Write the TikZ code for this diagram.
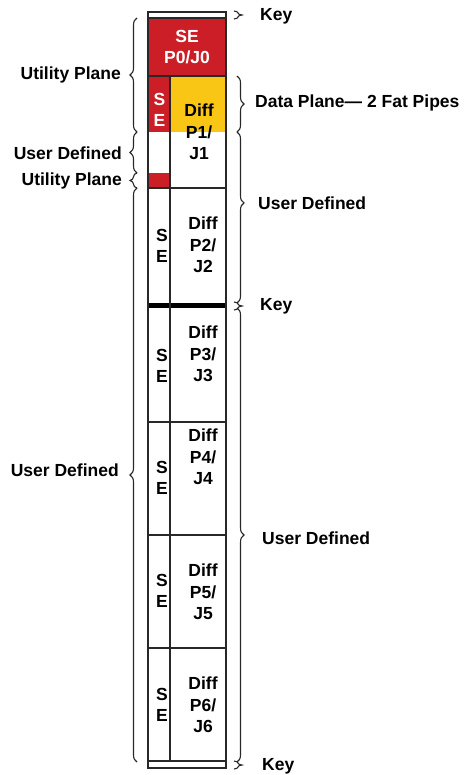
\documentclass[tikz,border=0pt]{standalone}
\usepackage{fontspec}
\setmainfont{Liberation Sans}
\usetikzlibrary{decorations.pathreplacing}
\definecolor{sered}{RGB}{204,30,38}
\definecolor{dpyel}{RGB}{249,198,22}
\definecolor{ln}{RGB}{40,40,40}
\begin{document}
\begin{tikzpicture}[x=1pt,y=-1pt,
  txt/.style={font=\fontsize{17.5}{21.5}\selectfont\bfseries, inner sep=0pt, align=center, text=black},
  wtxt/.style={txt, text=white},
  cell/.style={draw=ln, line width=1.1pt},
  brc/.style={draw=ln, line width=1.1pt, decorate, decoration={brace, amplitude=7pt}},
  keym/.style={draw=ln, line width=1.1pt, decorate, decoration={brace, amplitude=8pt}}]
\useasboundingbox (0,0) rectangle (464,775);
% fills
\fill[sered] (148,18) rectangle (226,76);
\fill[sered] (148,76) rectangle (170,132);
\fill[dpyel] (170,76) rectangle (226,132);
\fill[sered] (148,173) rectangle (170,188);
\fill[black] (148,303) rectangle (226,308);
% outlines
\draw[cell] (148,12) rectangle (226,768);
\draw[cell] (148,18) -- (226,18);
\draw[cell] (148,76) -- (226,76);
\draw[cell] (170,76) -- (170,761);
\draw[cell] (148,188) -- (226,188);
\draw[cell] (148,422) -- (226,422);
\draw[cell] (148,535) -- (226,535);
\draw[cell] (148,648) -- (226,648);
\draw[cell] (148,761) -- (226,761);
% cell texts
\node[wtxt] (se0) at (187,47) {SE\\P0/J0};
\node[wtxt] (se1) at (159.5,110) {S\\E};
\node[txt] (d1) at (199,132) {Diff\\P1/\\J1};
\node[txt] (se2) at (162,246) {S\\E};
\node[txt] (d2) at (203,245) {Diff\\P2/\\J2};
\node[txt] (se3) at (162,366) {S\\E};
\node[txt] (d3) at (203,354) {Diff\\P3/\\J3};
\node[txt] (se4) at (162,478) {S\\E};
\node[txt] (d4) at (203,457) {Diff\\P4/\\J4};
\node[txt] (se5) at (162,591) {S\\E};
\node[txt] (d5) at (203,592) {Diff\\P5/\\J5};
\node[txt] (se6) at (162,705) {S\\E};
\node[txt] (d6) at (203,705) {Diff\\P6/\\J6};
% left braces
\draw[brc] (137,132) -- (137,18);
\draw[brc] (137,173) -- (137,132);
\draw[brc] (137,188) -- (137,173);
\draw[brc] (137,762) -- (137,188);
\node[txt, anchor=east] (lu1) at (121,75) {Utility Plane};
\node[txt, anchor=east] (lud1) at (122,153) {User Defined};
\node[txt, anchor=east] (lu2) at (122,181) {Utility Plane};
\node[txt, anchor=east] (lud2) at (119,470) {User Defined};
% right braces
\draw[brc] (237,76) -- (237,132);
\draw[brc, decoration={aspect=0.415}] (237,132) -- (237,303);
\draw[brc] (237,308) -- (237,762);
\draw[keym] (234,11) -- (234,19);
\draw[keym] (234,302) -- (234,310);
\draw[keym] (234,761) -- (234,769);
\node[txt, anchor=west] (k1) at (260,16) {Key};
\node[txt, anchor=west] (dp) at (255,103) {Data Plane— 2 Fat Pipes};
\node[txt, anchor=west] (rud1) at (258,203) {User Defined};
\node[txt, anchor=west] (k2) at (260,306) {Key};
\node[txt, anchor=west] (rud2) at (262,538) {User Defined};
\node[txt, anchor=west] (k3) at (262,766) {Key};
\end{tikzpicture}
\end{document}
